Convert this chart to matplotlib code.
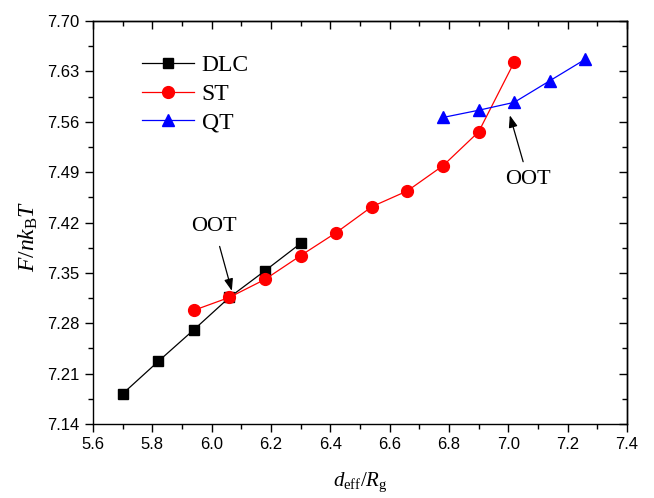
import numpy as np
import matplotlib
matplotlib.use('Agg')
import matplotlib.pyplot as plt
from matplotlib.ticker import MultipleLocator

plt.rcParams.update({'font.family': 'Liberation Sans', 'font.size': 12,
                     'mathtext.fontset': 'custom',
                     'mathtext.rm': 'Liberation Serif',
                     'mathtext.it': 'Liberation Serif:italic',
                     'axes.linewidth': 1.0})

# free energy per chain vs. effective separation
dlc_x = [5.70, 5.82, 5.94, 6.06, 6.18, 6.30]
dlc_y = [7.182, 7.227, 7.271, 7.316, 7.353, 7.391]
st_x = [5.94, 6.06, 6.18, 6.30, 6.42, 6.54, 6.66, 6.78, 6.90, 7.02]
st_y = [7.298, 7.316, 7.341, 7.374, 7.406, 7.442, 7.464, 7.499, 7.546, 7.643]
qt_x = [6.78, 6.90, 7.02, 7.14, 7.26]
qt_y = [7.566, 7.576, 7.587, 7.617, 7.647]

fig = plt.figure(figsize=(6.54, 4.98), dpi=100)
ax = fig.add_axes([0.1422, 0.1486, 0.8165, 0.8092])

ax.plot(dlc_x, dlc_y, '-s', color='black', lw=0.9, ms=7.5, label='DLC')
ax.plot(st_x, st_y, '-o', color='red', lw=0.9, ms=8.5, label='ST')
ax.plot(qt_x, qt_y, '-^', color='blue', lw=0.9, ms=9, label='QT')

ax.set_xlim(5.6, 7.4)
ax.set_ylim(7.14, 7.70)
ax.xaxis.set_major_locator(MultipleLocator(0.2))
ax.xaxis.set_minor_locator(MultipleLocator(0.1))
ax.set_yticks(np.arange(7.14, 7.701, 0.07))
ax.yaxis.set_minor_locator(MultipleLocator(0.035))
ax.yaxis.set_major_formatter(plt.FormatStrFormatter('%.2f'))
ax.xaxis.set_major_formatter(plt.FormatStrFormatter('%.1f'))
ax.tick_params(which='both', direction='out', top=False, right=False)
ax.tick_params(which='major', length=6, width=1.0)
ax.tick_params(which='minor', length=3.5, width=1.0)

# inward ticks on the top and right frame
top = ax.secondary_xaxis('top')
top.xaxis.set_major_locator(MultipleLocator(0.2))
top.xaxis.set_minor_locator(MultipleLocator(0.1))
top.tick_params(which='both', direction='in', labeltop=False)
top.tick_params(which='major', length=6, width=1.0)
top.tick_params(which='minor', length=3.5, width=1.0)
right = ax.secondary_yaxis('right')
right.set_yticks(np.arange(7.14, 7.701, 0.07))
right.yaxis.set_minor_locator(MultipleLocator(0.035))
right.tick_params(which='both', direction='in', labelright=False)
right.tick_params(which='major', length=6, width=1.0)
right.tick_params(which='minor', length=3.5, width=1.0)

ax.set_xlabel(r'$d_{\rm eff}/R_{\rm g}$', fontsize=15, labelpad=13)
ax.set_ylabel(r'$F/nk_{\rm B}T$', fontsize=17)
ax.yaxis.set_label_coords(-0.1, 0.467)

arrow = dict(arrowstyle='-|>,head_length=0.6,head_width=0.22', color='black',
             lw=0.9, mutation_scale=12, shrinkA=6, shrinkB=0)
ax.annotate('OOT', xy=(6.068, 7.325), xytext=(6.008, 7.415),
            ha='center', va='center', fontsize=16, family='Liberation Serif',
            arrowprops=arrow)
ax.annotate('OOT', xy=(7.005, 7.569), xytext=(7.067, 7.48),
            ha='center', va='center', fontsize=16, family='Liberation Serif',
            arrowprops=dict(arrow, shrinkA=4))

ax.legend(loc='upper left', bbox_to_anchor=(0.075, 0.94), frameon=False,
          prop={'family': 'Liberation Serif', 'size': 17},
          handlelength=2.2, handletextpad=0.3, labelspacing=0.3,
          borderaxespad=0)

fig.savefig('out.png', dpi=100)
